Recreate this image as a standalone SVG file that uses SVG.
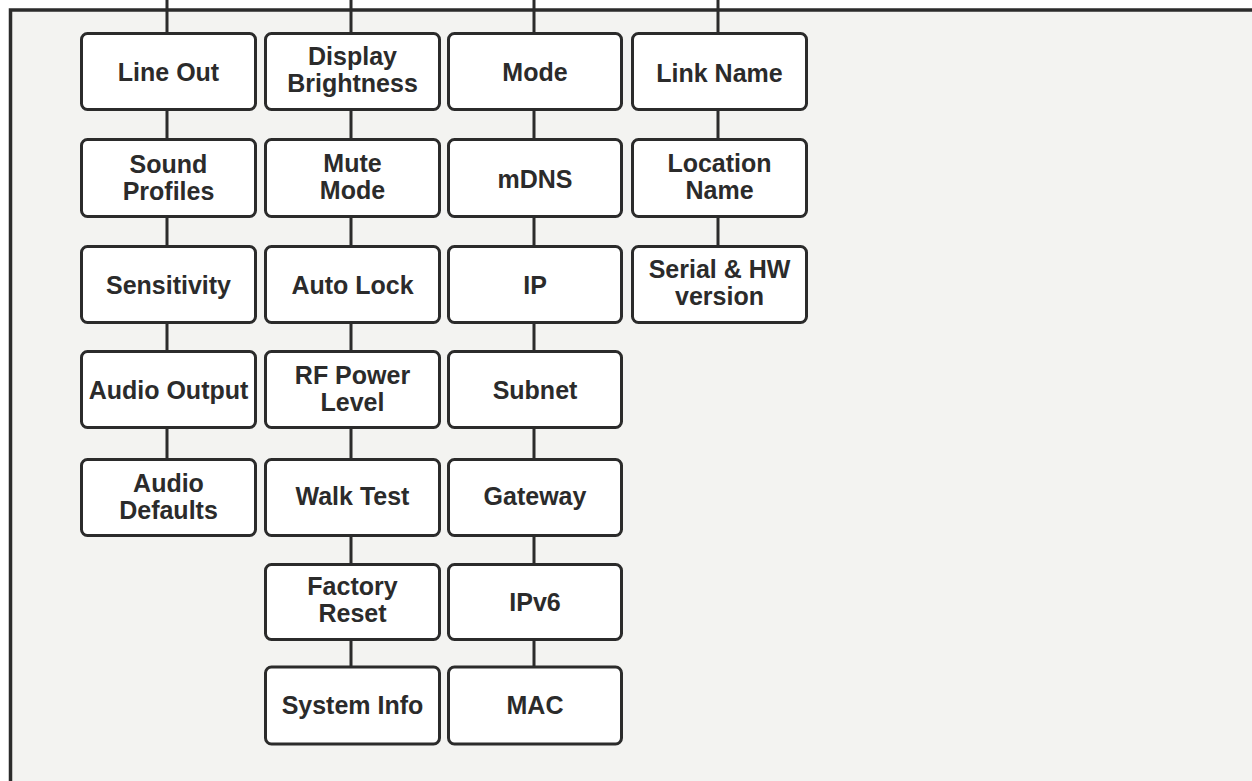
<svg xmlns="http://www.w3.org/2000/svg" width="1252" height="781" viewBox="0 0 1252 781">
<style>
.frame{fill:#f3f3f1;stroke:#2b2b2b;stroke-width:3.5}
.node rect{fill:#ffffff;stroke:#2b2b2b;stroke-width:3}
.node text{font-family:"Liberation Sans",Arial,sans-serif;font-weight:bold;font-size:25px;fill:#2b2b2b;text-anchor:middle}
.conn line{stroke:#2b2b2b;stroke-width:3}
</style>
<rect x="0" y="0" width="1252" height="781" fill="#ffffff"/>
<rect class="frame" x="10.5" y="10" width="1300" height="820"/>
<g class="conn" id="connectors">
<line x1="167" y1="0" x2="167" y2="458"/>
<line x1="351" y1="0" x2="351" y2="666"/>
<line x1="534" y1="0" x2="534" y2="666"/>
<line x1="718" y1="0" x2="718" y2="245"/>
</g>
<g class="node" id="n-line-out"><rect x="81.5" y="33.5" width="174" height="76" rx="6"/><text x="168.5" y="81">Line Out</text></g>
<g class="node" id="n-sound-profiles"><rect x="81.5" y="139.5" width="174" height="77" rx="6"/><text x="168.5" y="173">Sound</text><text x="168.5" y="200">Profiles</text></g>
<g class="node" id="n-sensitivity"><rect x="81.5" y="246.5" width="174" height="76" rx="6"/><text x="168.5" y="294">Sensitivity</text></g>
<g class="node" id="n-audio-output"><rect x="81.5" y="351.5" width="174" height="76" rx="6"/><text x="168.5" y="399">Audio Output</text></g>
<g class="node" id="n-audio-defaults"><rect x="81.5" y="459.5" width="174" height="76" rx="6"/><text x="168.5" y="492">Audio</text><text x="168.5" y="519">Defaults</text></g>

<g class="node" id="n-display-brightness"><rect x="265.5" y="33.5" width="174" height="76" rx="6"/><text x="352.5" y="65">Display</text><text x="352.5" y="92">Brightness</text></g>
<g class="node" id="n-mute-mode"><rect x="265.5" y="139.5" width="174" height="77" rx="6"/><text x="352.5" y="172">Mute</text><text x="352.5" y="199">Mode</text></g>
<g class="node" id="n-auto-lock"><rect x="265.5" y="246.5" width="174" height="76" rx="6"/><text x="352.5" y="294">Auto Lock</text></g>
<g class="node" id="n-rf-power-level"><rect x="265.5" y="351.5" width="174" height="76" rx="6"/><text x="352.5" y="384">RF Power</text><text x="352.5" y="411">Level</text></g>
<g class="node" id="n-walk-test"><rect x="265.5" y="459.5" width="174" height="76" rx="6"/><text x="352.5" y="505">Walk Test</text></g>
<g class="node" id="n-factory-reset"><rect x="265.5" y="564.5" width="174" height="75" rx="6"/><text x="352.5" y="595">Factory</text><text x="352.5" y="622">Reset</text></g>
<g class="node" id="n-system-info"><rect x="265.5" y="667" width="174" height="77" rx="6"/><text x="352.5" y="714">System Info</text></g>

<g class="node" id="n-mode"><rect x="448.5" y="33.5" width="173" height="76" rx="6"/><text x="535" y="81">Mode</text></g>
<g class="node" id="n-mdns"><rect x="448.5" y="139.5" width="173" height="77" rx="6"/><text x="535" y="188">mDNS</text></g>
<g class="node" id="n-ip"><rect x="448.5" y="246.5" width="173" height="76" rx="6"/><text x="535" y="294">IP</text></g>
<g class="node" id="n-subnet"><rect x="448.5" y="351.5" width="173" height="76" rx="6"/><text x="535" y="399">Subnet</text></g>
<g class="node" id="n-gateway"><rect x="448.5" y="459.5" width="173" height="76" rx="6"/><text x="535" y="505">Gateway</text></g>
<g class="node" id="n-ipv6"><rect x="448.5" y="564.5" width="173" height="75" rx="6"/><text x="535" y="611">IPv6</text></g>
<g class="node" id="n-mac"><rect x="448.5" y="667" width="173" height="77" rx="6"/><text x="535" y="714">MAC</text></g>

<g class="node" id="n-link-name"><rect x="632.5" y="33.5" width="174" height="76" rx="6"/><text x="719.5" y="82">Link Name</text></g>
<g class="node" id="n-location-name"><rect x="632.5" y="139.5" width="174" height="77" rx="6"/><text x="719.5" y="172">Location</text><text x="719.5" y="199">Name</text></g>
<g class="node" id="n-serial-hw"><rect x="632.5" y="246.5" width="174" height="76" rx="6"/><text x="719.5" y="278">Serial &amp; HW</text><text x="719.5" y="305">version</text></g>
</svg>
